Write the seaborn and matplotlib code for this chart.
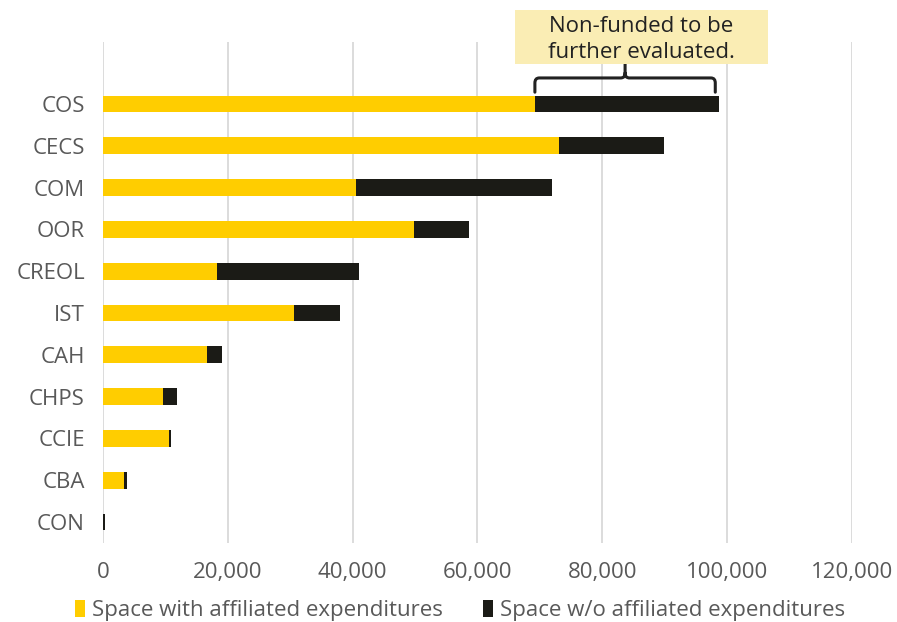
import matplotlib
matplotlib.use("Agg")
import matplotlib.pyplot as plt
from matplotlib.patches import Patch, Rectangle, PathPatch
from matplotlib.path import Path
import pandas as pd
import seaborn as sns

colleges = ["COS", "CECS", "COM", "OOR", "CREOL", "IST", "CAH", "CHPS", "CCIE", "CBA", "CON"]
with_exp = [69200, 73000, 40600, 49800, 18200, 30600, 16600, 9600, 10600, 3400, 0]
without_exp = [29500, 16900, 31400, 8900, 22800, 7300, 2500, 2200, 250, 500, 300]

legend_labels = ["Space with affiliated expenditures", "Space w/o affiliated expenditures"]
x_ticks = [0, 20000, 40000, 60000, 80000, 100000, 120000]
note_text = "Non-funded to be\nfurther evaluated."

YELLOW = "#FFCD00"
BLACK = "#1B1B16"
GREY_TEXT = "#595959"
FS = 16

df = pd.DataFrame({"college": colleges, "with": with_exp, "without": without_exp})
df["total"] = df["with"] + df["without"]

sns.set_theme(style="white")
plt.rcParams["font.family"] = ["Open Sans", "DejaVu Sans"]

fig = plt.figure(figsize=(8.97, 6.22), dpi=100)
ax = fig.add_axes([0.1148, 0.127, 0.8350, 0.8055])

sns.barplot(data=df, y="college", x="total", color=BLACK, orient="h",
            width=0.4, saturation=1, linewidth=0, ax=ax, order=colleges)
sns.barplot(data=df, y="college", x="with", color=YELLOW, orient="h",
            width=0.4, saturation=1, linewidth=0, ax=ax, order=colleges)

ax.set_xlim(0, 120000)
ax.set_ylim(10.5, -1.48)
ax.set_xticks(x_ticks)
ax.set_xticklabels([f"{v:,}" for v in x_ticks])
ax.set_xlabel("")
ax.set_ylabel("")
ax.grid(axis="x", color="#D9D9D9", linewidth=1.3)
ax.set_axisbelow(True)
for s in ax.spines.values():
    s.set_visible(False)
ax.tick_params(axis="x", length=0, pad=14, labelsize=FS, labelcolor=GREY_TEXT)
ax.tick_params(axis="y", length=0, pad=13, labelsize=FS, labelcolor=GREY_TEXT)

# curly bracket over the unfunded portion of the top bar
row = df.iloc[0]
x0, x1 = row["with"], row["total"] - 600
xm = (x0 + x1) / 2
yb, yt, ytip = -0.28, -0.62, -0.96
rx, ry = 700, 0.12
verts = [
    (x0, yb), (x0, yt + ry), (x0, yt), (x0 + rx, yt),
    (xm - rx, yt), (xm, yt), (xm, yt - ry), (xm, ytip),
    (xm, yt - ry), (xm, yt), (xm + rx, yt),
    (x1 - rx, yt), (x1, yt), (x1, yt + ry), (x1, yb),
]
codes = [
    Path.MOVETO, Path.LINETO, Path.CURVE3, Path.CURVE3,
    Path.LINETO, Path.CURVE3, Path.CURVE3, Path.LINETO,
    Path.MOVETO, Path.CURVE3, Path.CURVE3,
    Path.LINETO, Path.CURVE3, Path.CURVE3, Path.LINETO,
]
ax.add_patch(PathPatch(Path(verts, codes), facecolor="none", edgecolor="#222222",
                       lw=2.2, capstyle="round", clip_on=False))

# note box above the bracket
ax.add_patch(Rectangle((66000, -0.957), 40500, -1.29, facecolor="#FAEDB4",
                       edgecolor="none", clip_on=False, zorder=3))
ax.text(86200, -1.54, note_text, ha="center", va="center", fontsize=FS,
        color="#222222", linespacing=1.3, clip_on=False, zorder=4)

handles = [Patch(facecolor=YELLOW, edgecolor="none"), Patch(facecolor=BLACK, edgecolor="none")]
fig.legend(handles, legend_labels, loc="center", bbox_to_anchor=(0.513, 0.019),
           ncol=2, frameon=False, fontsize=FS, labelcolor=GREY_TEXT,
           handlelength=0.45, handleheight=0.8, handletextpad=0.3, columnspacing=1.8)

fig.savefig("out.png", dpi=100)
